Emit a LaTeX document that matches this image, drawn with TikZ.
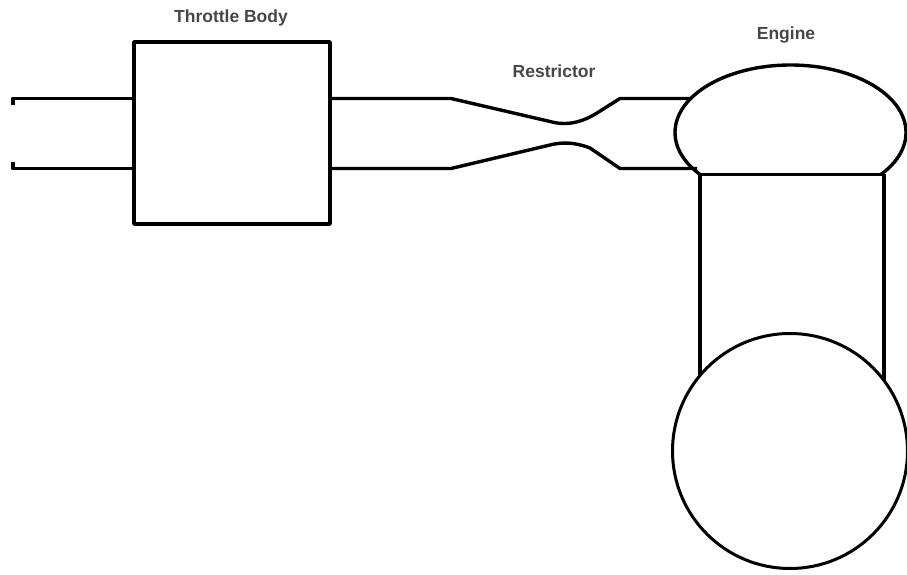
\documentclass[tikz,border=0pt]{standalone}
\usepackage{fontspec}
\setmainfont{Liberation Sans}
\usetikzlibrary{shapes.geometric}
\tikzset{
  x=1pt,y=1pt,
  pipe/.style={line width=3.4pt,black,line join=round},
  lbl/.style={inner sep=0pt,text=black!72,font=\bfseries\fontsize{17.5}{20}\selectfont},
}
\begin{document}
\begin{tikzpicture}
\useasboundingbox (0,0) rectangle (907,575);
% y values are 575 minus the reference pixel row
\node[draw,pipe,rectangle,minimum width=196pt,minimum height=182pt,inner sep=0pt] (tb) at (232,442) {};
\begin{scope}
\clip (600,400.5) rectangle (907,575);
\node[draw,pipe,ellipse,minimum width=231pt,minimum height=135pt,inner sep=0pt] (head) at (790.5,442.5) {};
\end{scope}
\node[lbl] (ltb) at (231,557) {Throttle Body};
\node[lbl] (lr) at (554,504) {Restrictor};
\node[lbl] (le) at (786,540) {Engine};
% free ends
\coordinate (inT) at (13,476.5);
\coordinate (inB) at (13,406.5);
\coordinate (inTt) at (13,470);
\coordinate (inBt) at (13,413);
\coordinate (a1) at (451,476.5);
\coordinate (a2) at (451,406.5);
\coordinate (b1) at (620,476.5);
\coordinate (b2) at (620,406.5);
\coordinate (h1) at (692,476.5);
\coordinate (h2) at (697,406.5);
\coordinate (cl) at (700,400.5);
\coordinate (cr) at (884,400.5);
\coordinate (dl) at (700,190);
\coordinate (dr) at (884,190);
% intake
\draw[pipe] (inTt) -- (inT) -- (inT -| tb.west);
\draw[pipe] (inBt) -- (inB) -- (inB -| tb.west);
\draw[pipe] (a1 -| tb.east) -- (a1)
  -- (550,453.5) .. controls (562,450) and (578,450) .. (597,462) -- (b1) -- (h1);
\draw[pipe] (a2 -| tb.east) -- (a2)
  -- (550,430) .. controls (562,433) and (574,433) .. (590,427) -- (b2) -- (h2);
% cylinder
\draw[pipe] (cl) -- (cr);
\draw[pipe] (cl) -- (dl);
\draw[pipe] (cr) -- (dr);
\node[draw,line width=3pt,fill=white,circle,minimum size=235pt,inner sep=0pt] (crank) at (790,124) {};
\end{tikzpicture}
\end{document}
